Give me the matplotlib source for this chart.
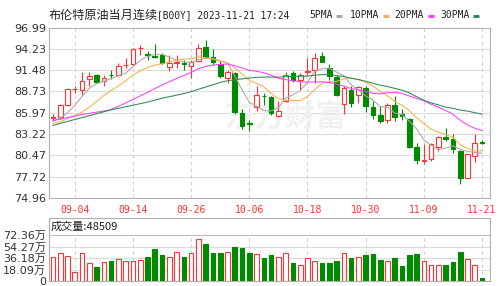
import numpy as np
import pandas as pd
import matplotlib
matplotlib.use("Agg")
import matplotlib.pyplot as plt
from matplotlib.patches import Rectangle
from matplotlib.lines import Line2D

# trading days 08-30 .. 11-21
dates = pd.bdate_range("2023-08-30", "2023-11-21").strftime("%m-%d").tolist()

open_ = [85.30, 85.40, 86.94, 89.00, 88.95, 90.36, 90.88, 90.11, 90.90, 90.79,
         92.10, 92.25, 94.30, 93.55, 93.30, 93.45, 91.95, 92.45, 92.45, 92.08,
         92.68, 94.52, 93.24, 92.25, 90.45, 91.09, 85.95, 84.60, 86.68, 88.20,
         87.96, 85.52, 87.54, 91.09, 90.24, 91.30, 91.52, 93.37, 91.74, 90.58,
         87.11, 88.95, 88.22, 89.16, 86.68, 85.65, 85.10, 87.02, 85.80, 85.18,
         81.53, 79.70, 79.95, 81.53, 82.80, 82.52, 81.02, 77.60, 80.38, 82.20]
high = [85.80, 87.10, 89.20, 89.40, 91.30, 91.20, 91.00, 90.88, 91.50, 92.40,
        93.00, 94.30, 94.70, 93.90, 94.80, 93.67, 93.45, 93.45, 92.80, 92.80,
        94.82, 95.38, 94.20, 92.60, 91.50, 91.30, 86.50, 85.10, 89.38, 88.50,
        88.10, 87.50, 91.18, 91.40, 91.10, 93.00, 93.67, 93.88, 92.25, 90.88,
        89.38, 89.38, 89.46, 89.46, 87.54, 86.80, 87.24, 88.10, 86.40, 85.30,
        82.09, 82.00, 82.10, 82.95, 84.00, 83.25, 81.10, 80.80, 83.20, 82.40]
low = [84.90, 85.20, 86.90, 88.50, 88.30, 89.40, 89.80, 89.40, 90.40, 90.70,
       91.80, 92.10, 93.50, 92.80, 93.00, 92.25, 91.31, 91.74, 91.50, 90.45,
       92.60, 93.00, 92.20, 90.50, 89.80, 85.80, 83.90, 83.60, 86.17, 87.00,
       85.70, 85.40, 87.40, 90.00, 88.95, 90.90, 89.80, 92.50, 90.24, 88.10,
       85.82, 86.68, 87.24, 86.08, 85.20, 84.66, 84.66, 84.88, 85.10, 81.45,
       79.30, 79.40, 79.70, 81.00, 82.30, 80.80, 76.80, 77.50, 79.65, 81.90]
close = [85.40, 86.94, 89.04, 89.10, 90.02, 90.66, 89.94, 90.45, 90.80, 92.08,
         92.17, 94.22, 94.40, 93.45, 93.20, 92.38, 92.38, 92.50, 92.30, 92.59,
         94.40, 93.24, 92.50, 90.66, 91.18, 86.08, 84.23, 84.50, 88.31, 88.10,
         85.95, 86.25, 90.88, 90.24, 90.88, 91.40, 93.11, 92.59, 90.66, 88.31,
         89.16, 87.24, 89.25, 86.80, 85.65, 84.88, 87.02, 85.40, 85.60, 81.58,
         79.82, 79.85, 81.96, 82.82, 82.60, 81.24, 77.60, 80.68, 82.09, 82.10]
# volume in 万
volume = [37.2, 43.5, 39.3, 14.7, 43.5, 27.8, 21.5, 29.4, 31.5, 34.1,
          31.5, 31.5, 33.0, 38.3, 49.8, 40.9, 37.2, 45.1, 37.2, 43.5,
          65.6, 57.7, 43.5, 43.5, 45.1, 53.0, 51.4, 43.5, 42.0, 35.7,
          40.9, 37.2, 43.5, 28.8, 25.2, 35.7, 31.5, 28.8, 28.8, 31.5,
          43.5, 35.7, 37.2, 40.9, 42.5, 33.0, 31.5, 35.7, 23.6, 40.9,
          42.5, 31.5, 25.2, 25.2, 25.2, 29.4, 45.1, 34.6, 25.2, 4.8509]

# MA values before a full window is available
ma5_head = [84.90, 85.30, 86.00, 86.90]
ma10_head = [84.58, 84.79, 85.20, 85.65, 86.08, 86.68, 87.45, 88.22, 88.86]
ma20_head = [84.96, 85.15, 85.35, 85.55, 85.75, 85.90, 86.05, 86.20, 86.40, 86.80,
             87.25, 87.70, 88.15, 88.60, 89.10, 89.55, 90.00, 90.40, 90.80]
ma30_head = [84.33, 84.60, 84.85, 85.10, 85.35, 85.60, 85.85, 86.10, 86.35, 86.55,
             86.75, 86.95, 87.15, 87.35, 87.60, 87.85, 88.05, 88.25, 88.45, 88.70,
             89.00, 89.30, 89.60, 89.90, 90.10, 90.25, 90.35, 90.45, 90.55]

y_ticks = [74.96, 77.72, 80.47, 83.22, 85.97, 88.73, 91.48, 94.23, 96.99]
vol_ticks = [0, 18.09, 36.18, 54.27, 72.36]
vol_labels = ["0", "18.09万", "36.18万", "54.27万", "72.36万"]
date_ticks = ["09-04", "09-14", "09-26", "10-06", "10-18", "10-30", "11-09", "11-21"]

RED = "#ff3333"
GREEN = "#008a00"
ma_colors = ["#a8a8a8", "#f5b247", "#ff3cff", "#2f8a55"]

n = len(close)
xs = np.arange(n)
cs = pd.Series(close)


def moving_avg(w, head):
    m = cs.rolling(w).mean().to_numpy()
    m[:len(head)] = head
    return m


mas = [moving_avg(5, ma5_head), moving_avg(10, ma10_head),
       moving_avg(20, ma20_head), moving_avg(30, ma30_head)]

W, H = 500, 286
fig = plt.figure(figsize=(5, 2.86), dpi=100)
fig.patch.set_facecolor("white")

ax = fig.add_axes([49 / W, 1 - 198 / H, 441 / W, 170.5 / H])
axv = fig.add_axes([49 / W, 1 - 281 / H, 441 / W, 63 / H])

tick_idx = [dates.index(d) for d in date_ticks]

# price panel
ax.set_xlim(-0.55, 60.1)
ax.set_ylim(y_ticks[0], y_ticks[-1])
for yv in y_ticks[1:-1]:
    ax.axhline(yv, color="#dcdcdc", lw=0.8, zorder=0)
for xi in tick_idx:
    ax.axvline(xi, color="#cfcfcf", lw=0.8, ls=(0, (3, 3)), zorder=0)

# faint watermark
ax.text((285 - 49) / 441, (198 - 117) / 170.5, "东方财富", transform=ax.transAxes,
        family="Noto Sans CJK SC", fontsize=22, fontweight="bold", color="#f1f1f1",
        ha="center", va="center", zorder=0.5)

bw = 0.64
for i in range(n):
    up = close[i] >= open_[i]
    col = RED if up else GREEN
    ax.vlines(i, low[i], high[i], color=col, lw=0.8, zorder=2)
    b = min(open_[i], close[i])
    h = max(abs(close[i] - open_[i]), 0.02)
    ax.add_patch(Rectangle((i - bw / 2, b), bw, h, facecolor="white" if up else col,
                           edgecolor=col, lw=0.8, zorder=3))

for m, c in zip(mas, ma_colors):
    ax.plot(xs, m, color=c, lw=0.75, zorder=4)

ax.set_yticks(y_ticks)
ax.set_yticklabels([f"{v:.2f}" for v in y_ticks])
ax.set_xticks(tick_idx)
ax.set_xticklabels(date_ticks)
ax.tick_params(axis="y", length=0, pad=2, labelsize=8, labelcolor="#333333")
ax.tick_params(axis="x", length=0, pad=5, labelsize=7, labelcolor="#ff3030")
for lb in ax.get_xticklabels():
    lb.set_family("DejaVu Sans Mono")
for sp in ax.spines.values():
    sp.set_color("#b0b0b0")
    sp.set_linewidth(0.8)

# volume panel
vtop = vol_ticks[-1] * 63 / 46
axv.set_xlim(-0.55, 60.1)
axv.set_ylim(0, vtop)
for yv in vol_ticks[1:-1]:
    axv.axhline(yv, color="#dcdcdc", lw=0.8, zorder=0)
axv.axhline(vol_ticks[-1], color="#bdbdbd", lw=0.8, zorder=1)
for xi in tick_idx:
    axv.vlines(xi, 0, vol_ticks[-1], color="#cfcfcf", lw=0.8, ls=(0, (3, 3)), zorder=0)
for i in range(n):
    up = close[i] >= open_[i]
    col = RED if up else GREEN
    axv.add_patch(Rectangle((i - bw / 2, 0), bw, volume[i], facecolor="white" if up else col,
                            edgecolor=col, lw=0.8, zorder=3))
axv.set_yticks(vol_ticks)
axv.set_yticklabels(vol_labels)
for lb in axv.get_yticklabels():
    lb.set_family(["DejaVu Sans", "Noto Sans CJK SC"])
axv.tick_params(axis="y", length=0, pad=2, labelsize=8, labelcolor="#333333")
axv.set_xticks([])
for sp in axv.spines.values():
    sp.set_color("#b0b0b0")
    sp.set_linewidth(0.8)
axv.text(0.004, 1 - 8.5 / 63, "成交量:" + f"{int(round(volume[-1] * 10000))}",
         transform=axv.transAxes, family=["Noto Sans CJK SC", "DejaVu Sans"],
         fontsize=8, color="#222222", ha="left", va="center")

# title and legend
fig.text(49 / W, 1 - 15 / H, "布伦特原油当月连续", family="Noto Sans CJK SC",
         fontsize=8.7, color="#222222", ha="left", va="center")
fig.text(157 / W, 1 - 15 / H, "[B00Y] 2023-11-21 17:24", family="DejaVu Sans Mono",
         fontsize=6.9, color="#222222", ha="left", va="center")

leg = [("5PMA", 309, 336), ("10PMA", 350, 383), ("20PMA", 394, 428), ("30PMA", 440, 473)]
for (lab, tx, dx), c in zip(leg, ma_colors):
    fig.text(tx / W, 1 - 15 / H, lab, family="DejaVu Sans Mono", fontsize=7,
             color="#222222", ha="left", va="center")
    fig.add_artist(Line2D([dx / W, (dx + 6) / W], [1 - 15.5 / H, 1 - 15.5 / H],
                          color=c, lw=2.2, solid_capstyle="butt"))

fig.savefig("out.png", dpi=100)
